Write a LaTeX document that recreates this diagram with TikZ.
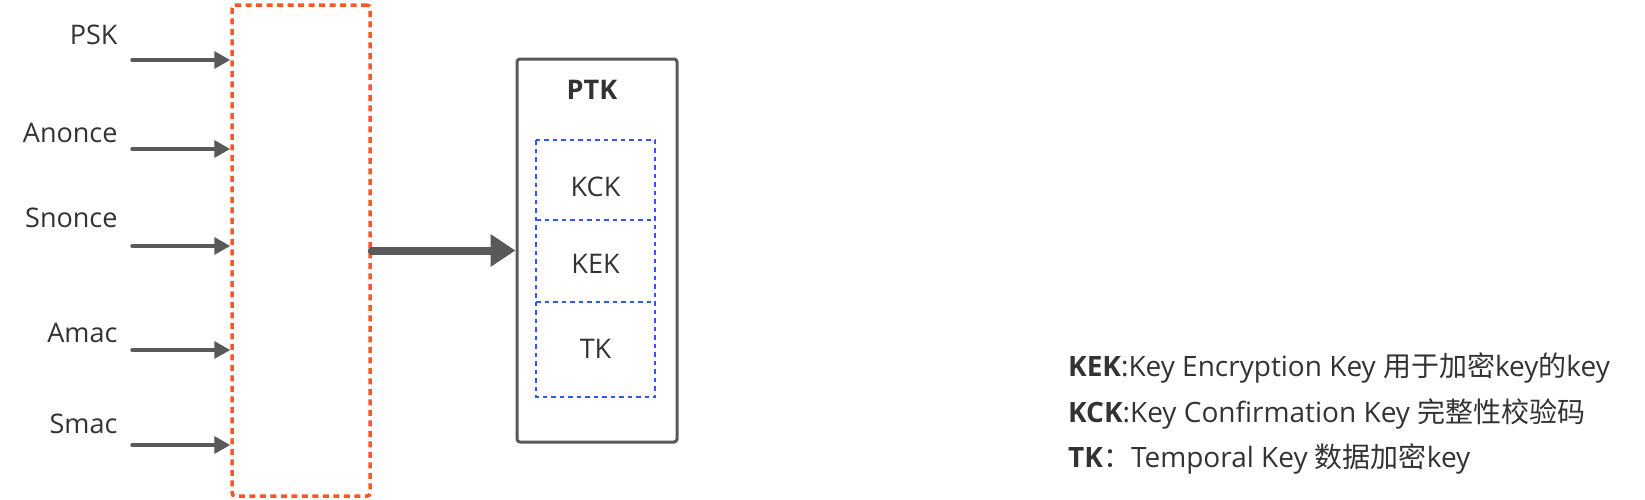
\documentclass[tikz,border=0pt]{standalone}
\usepackage{fontspec}
\setmainfont{Open Sans}
\newfontfamily\cjk{Noto Sans CJK SC}
\usetikzlibrary{positioning, arrows.meta}

\definecolor{linegray}{HTML}{595959}
\definecolor{txtgray}{HTML}{333333}
\definecolor{dashorange}{HTML}{FF5622}
\definecolor{dashblue}{HTML}{3355FF}

\tikzset{
  inarrow/.style={-{Triangle[length=16pt, width=17pt]}, line width=3.5pt, line cap=round, linegray},
  outarrow/.style={-{Triangle[length=25pt, width=31pt]}, line width=8pt, line cap=round, linegray},
  bluedash/.style={draw=dashblue, line width=2.5pt, dash pattern=on 4.5pt off 4pt},
  keybox/.style={minimum width=119pt, outer sep=0pt},
  keylbl/.style={text=txtgray, font=\fontsize{27pt}{32pt}\selectfont},
  lbl/.style={text=txtgray, font=\fontsize{27pt}{32pt}\selectfont},
  desc/.style={text=txtgray, anchor=base west, inner sep=0pt, font=\fontsize{28pt}{32pt}\selectfont},
}

\begin{document}
\begin{tikzpicture}[x=1pt, y=-1pt]
\useasboundingbox (0,0) rectangle (1645,499);

% the orange collector box
\node[draw=dashorange, line width=3.5pt, dash pattern=on 6pt off 4.5pt, rounded corners=3pt,
      minimum width=138pt, minimum height=491pt] (hub) at (301,250.5) {};

% inputs
\foreach \name/\txt/\ly/\ay in {psk/PSK/35/60, anonce/Anonce/133/149, snonce/Snonce/218/246,
                                amac/Amac/333/350, smac/Smac/424/445} {
  \node[lbl, anchor=east] (\name) at (121,\ly) {\txt};
  \coordinate (\name-s) at (132,\ay);
  \draw[inarrow] (\name-s) -- (hub.west |- \name-s);
}

% PTK
\node[draw=linegray, line width=3pt, rounded corners=3pt, minimum width=160pt, minimum height=383pt] (ptk) at (597,250.5) {};
\node[text=txtgray, font=\fontsize{27pt}{32pt}\selectfont\bfseries] (ptklbl) at (592,90) {PTK};
\node[keybox, minimum height=80pt] (kck) at (595.5,180) {};
\node[keybox, minimum height=82pt, below=0pt of kck] (kek) {};
\node[keybox, minimum height=95pt, below=0pt of kek] (tk) {};
\draw[bluedash] (kck.north west) rectangle (tk.south east);
\draw[bluedash] (kek.north west) -- (kek.north east);
\draw[bluedash] (tk.north west) -- (tk.north east);
\node[keylbl] (kcklbl) at ([yshift=-7pt]kck.center) {KCK};
\node[keylbl] (keklbl) at ([yshift=-3pt]kek.center) {KEK};
\node[keylbl] (tklbl) at ([yshift=1pt]tk.center) {TK};

\draw[outarrow] (hub.east) -- (ptk.west);

% legend
\node[desc] (kekdesc) at (1068,376.5) {\textbf{KEK}:Key Encryption Key {\cjk 用于加密}key{\cjk 的}key};
\node[desc] (kckdesc) at (1068,422.5) {\textbf{KCK}:Key Confirmation Key {\cjk 完整性校验码}};
\node[desc] (tkdesc) at (1068,467.5) {\textbf{TK}{\cjk ：}Temporal Key {\cjk 数据加密}key};
\end{tikzpicture}
\end{document}
